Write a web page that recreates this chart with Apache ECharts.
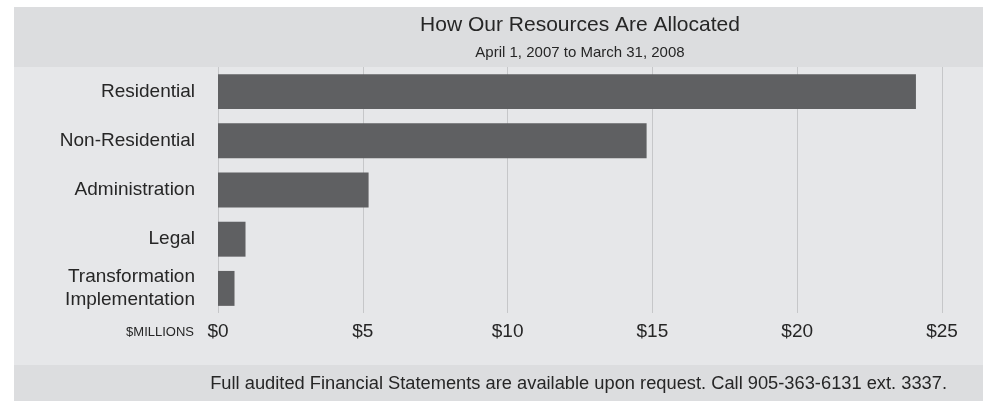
<!DOCTYPE html>
<html>
<head>
<meta charset="utf-8">
<script src="https://cdn.jsdelivr.net/npm/echarts@6/dist/echarts.min.js"></script>
<style>
html,body{margin:0;padding:0;background:#ffffff;}
#chart{width:991px;height:401px;}
</style>
</head>
<body>
<div id="chart"></div>
<script>
const categories = ['Residential', 'Non-Residential', 'Administration', 'Legal', 'Transformation\nImplementation'];
const values = [24.1, 14.8, 5.2, 0.95, 0.57];
const tickLabels = ['$0', '$5', '$10', '$15', '$20', '$25'];
const titleText = 'How Our Resources Are Allocated';
const subtitleText = 'April 1, 2007 to March 31, 2008';
const unitText = '$MILLIONS';
const footerText = 'Full audited Financial Statements are available upon request. Call 905-363-6131 ext. 3337.';

const FONT = '"Liberation Sans", Arial, sans-serif';
const TEXT = '#262626';

const chart = echarts.init(document.getElementById('chart'), null, {renderer: 'canvas'});
chart.setOption({
  animation: false,
  backgroundColor: '#ffffff',
  graphic: [
    {type: 'rect', z: -10, silent: true, shape: {x: 14, y: 7, width: 969, height: 60}, style: {fill: '#dcdddf'}},
    {type: 'rect', z: -10, silent: true, shape: {x: 14, y: 67, width: 969, height: 298}, style: {fill: '#e6e7e9'}},
    {type: 'rect', z: -10, silent: true, shape: {x: 14, y: 365, width: 969, height: 36}, style: {fill: '#dcdddf'}},
    {type: 'text', silent: true, x: 580, y: 25,
      style: {text: titleText, font: '21px ' + FONT, fill: TEXT, textAlign: 'center', textVerticalAlign: 'middle'}},
    {type: 'text', silent: true, x: 580, y: 53,
      style: {text: subtitleText, font: '15px ' + FONT, fill: TEXT, textAlign: 'center', textVerticalAlign: 'middle'}},
    {type: 'text', silent: true, x: 194, y: 332,
      style: {text: unitText, font: '13px ' + FONT, fill: TEXT, textAlign: 'right', textVerticalAlign: 'middle'}},
    {type: 'text', silent: true, x: 947, y: 384,
      style: {text: footerText, font: '18.3px ' + FONT, fill: TEXT, textAlign: 'right', textVerticalAlign: 'middle'}}
  ],
  grid: {left: 218, right: 49, top: 67, bottom: 88, containLabel: false},
  xAxis: {
    type: 'value', min: 0, max: 25, interval: 5,
    axisLine: {show: false}, axisTick: {show: false},
    splitLine: {show: true, lineStyle: {color: '#c6c7c9', width: 1}},
    axisLabel: {
      margin: 9, color: TEXT, fontSize: 19, fontFamily: FONT,
      formatter: function (v) { return tickLabels[Math.round(v / 5)] || ''; }
    }
  },
  yAxis: {
    type: 'category', data: categories, inverse: true,
    axisLine: {show: false}, axisTick: {show: false}, splitLine: {show: false},
    axisLabel: {margin: 23, color: TEXT, fontSize: 19, fontFamily: FONT, lineHeight: 23, align: 'right'}
  },
  series: [{
    type: 'bar', data: values, barCategoryGap: '29%',
    itemStyle: {color: '#5f6062'}, silent: true
  }]
});
</script>
</body>
</html>
